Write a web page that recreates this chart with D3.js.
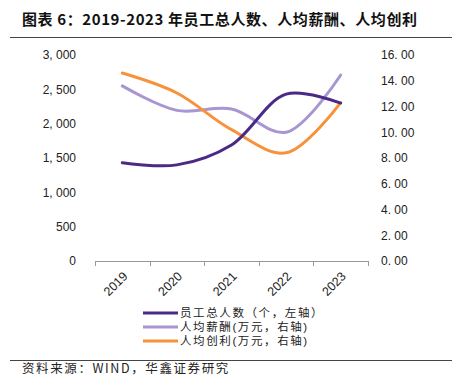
<!DOCTYPE html>
<html>
<head>
<meta charset="utf-8">
<script src="https://cdn.jsdelivr.net/npm/d3@7"></script>
<style>
  body { margin: 0; background: #fff; }
  text { font-family: "Liberation Sans", Arial, "Noto Sans CJK SC", sans-serif; }
  .cjk { font-family: "Noto Sans CJK SC", sans-serif; }
  .legend-text { font-family: "Liberation Sans", "Noto Sans CJK SC", sans-serif; }
</style>
</head>
<body>
<svg id="chart"></svg>
<script>
// data
const years = ['2019', '2020', '2021', '2022', '2023'];
const staff = [1430, 1400, 1690, 2430, 2300];          // left axis
const salary = [13.6, 11.7, 11.8, 10.0, 14.45];        // right axis
const profit = [14.6, 13.05, 10.2, 8.4, 12.3];         // right axis
const leftTicks = [0, 500, 1000, 1500, 2000, 2500, 3000];
const rightTicks = [0, 2, 4, 6, 8, 10, 12, 14, 16];
const seriesNames = ['员工总人数（个，左轴）', '人均薪酬(万元，右轴)', '人均创利(万元，右轴)'];
const colors = ['#4a2a85', '#a796d2', '#f8923a'];

const width = 461, height = 387;
const margin = {top: 55, right: 93, bottom: 126, left: 95};
const w = width - margin.left - margin.right;
const h = height - margin.top - margin.bottom;

const svg = d3.select('#chart').attr('width', width).attr('height', height);

// title + rules
svg.append('text')
    .attr('class', 'cjk')
    .attr('x', 22).attr('y', 25)
    .style('font-size', '15px')
    .style('font-weight', 'bold')
    .style('letter-spacing', '0.6px')
    .attr('fill', '#111')
    .text('图表 6：2019-2023 年员工总人数、人均薪酬、人均创利');
svg.append('line').attr('x1', 10).attr('x2', 452).attr('y1', 37.5).attr('y2', 37.5)
    .attr('stroke', '#444').attr('stroke-width', 1);
svg.append('line').attr('x1', 10).attr('x2', 452).attr('y1', 360.5).attr('y2', 360.5)
    .attr('stroke', '#444').attr('stroke-width', 1);
svg.append('text')
    .attr('class', 'cjk')
    .attr('x', 22).attr('y', 373)
    .style('font-size', '12.5px')
    .style('letter-spacing', '1.6px')
    .attr('fill', '#222')
    .text('资料来源：WIND，华鑫证券研究');

const chart = svg.append('g').attr('transform', `translate(${margin.left},${margin.top})`);

const xScale = d3.scaleBand().domain(years).range([0, w]);
const yLeft = d3.scaleLinear().domain([0, 3000]).range([h, 0]);
const yRight = d3.scaleLinear().domain([0, 16]).range([h, 0]);

// x axis with ticks at band edges
chart.append('line').attr('x1', 0).attr('x2', w).attr('y1', h + 0.5).attr('y2', h + 0.5)
    .attr('stroke', '#999');
const edges = years.map(d => xScale(d)).concat([w]);
chart.selectAll('.xtick').data(edges).join('line')
    .attr('class', 'xtick')
    .attr('x1', d => Math.round(d) + 0.5).attr('x2', d => Math.round(d) + 0.5)
    .attr('y1', h).attr('y2', h + 5)
    .attr('stroke', '#999');
chart.selectAll('.xlabel').data(years).join('text')
    .attr('class', 'xlabel')
    .attr('transform', d => `translate(${xScale(d) + xScale.bandwidth() / 2 + 3},${h + 13}) rotate(-45)`)
    .attr('text-anchor', 'end')
    .attr('dy', '0.35em')
    .style('font-size', '12.5px')
    .attr('fill', '#222')
    .text(d => d);

// y axes (labels only)
const yAxisL = d3.axisLeft(yLeft).tickValues(leftTicks).tickSize(0).tickPadding(19)
    .tickFormat(d => d3.format(',')(d).replace(',', ', '));
chart.append('g').call(yAxisL)
    .call(g => g.select('.domain').remove())
    .call(g => g.selectAll('text').style('font-size', '12px').attr('fill', '#222')
        .style('font-family', '"Liberation Sans", Arial, sans-serif'));

const yAxisR = d3.axisRight(yRight).tickValues(rightTicks).tickSize(0).tickPadding(13)
    .tickFormat(d => d3.format('.2f')(d).replace('.', '. '));
chart.append('g').attr('transform', `translate(${w},0)`).call(yAxisR)
    .call(g => g.select('.domain').remove())
    .call(g => g.selectAll('text').style('font-size', '12px').attr('fill', '#222')
        .style('font-family', '"Liberation Sans", Arial, sans-serif'));

// lines
const cx = d => xScale(d) + xScale.bandwidth() / 2;
const lineOf = (vals, y) => d3.line()
    .x((d, i) => cx(years[i]))
    .y(d => y(d))
    .curve(d3.curveCatmullRom.alpha(0.5))(vals);

const series = [
  {vals: staff, y: yLeft, color: colors[0]},
  {vals: salary, y: yRight, color: colors[1]},
  {vals: profit, y: yRight, color: colors[2]}
];
// draw order: salary, profit, staff on top
[series[1], series[2], series[0]].forEach(s => {
  chart.append('path')
      .attr('d', lineOf(s.vals, s.y))
      .attr('fill', 'none')
      .attr('stroke', s.color)
      .attr('stroke-width', 3)
      .attr('stroke-linecap', 'round');
});

// legend
const legend = svg.append('g').attr('transform', 'translate(143,313)');
seriesNames.forEach((name, i) => {
  const g = legend.append('g').attr('transform', `translate(0,${i * 14})`);
  g.append('line').attr('x1', 0).attr('x2', 35).attr('y1', 0).attr('y2', 0)
      .attr('stroke', colors[i]).attr('stroke-width', 3);
  g.append('text').attr('class', 'legend-text')
      .attr('x', 37).attr('y', 0).attr('dy', '0.35em')
      .style('font-size', '11.5px')
      .style('letter-spacing', '1.6px')
      .attr('fill', '#222')
      .text(name);
});
</script>
</body>
</html>
